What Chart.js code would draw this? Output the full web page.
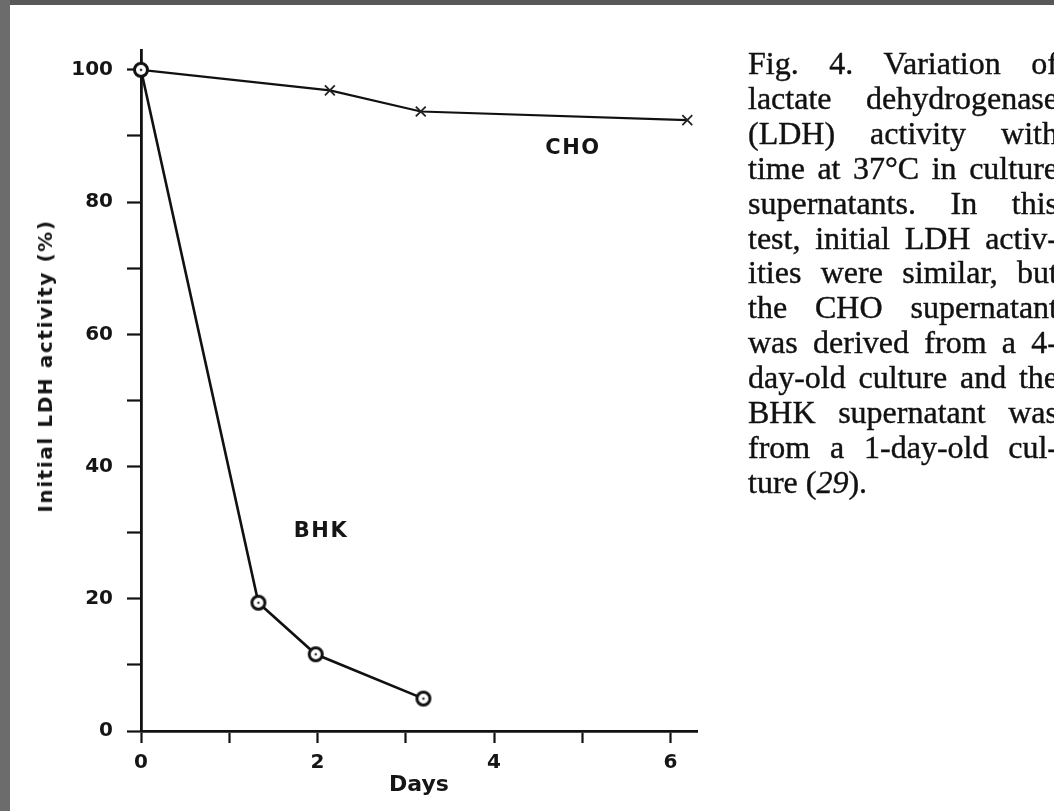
<!DOCTYPE html>
<html><head><meta charset="utf-8">
<script src="https://cdn.jsdelivr.net/npm/chart.js@4"></script>
<style>
html,body{margin:0;padding:0;background:#fff;width:1054px;height:811px;overflow:hidden;position:relative}
#c{position:absolute;left:0;top:0}
.bar-top{position:absolute;left:0;top:0;width:1054px;height:5px;background:#585858}
.bar-left{position:absolute;left:0;top:0;width:10px;height:811px;background:#6c6c6c}
#caption{position:absolute;left:748px;top:46px;width:310px;font-family:"Liberation Serif",serif;font-size:32px;line-height:34.9px;color:#111;-webkit-text-stroke:0.4px #111}
#caption div{text-align:justify;text-align-last:justify;white-space:nowrap}
#caption div.last{text-align:left;text-align-last:left}
.lbl{position:absolute;font-family:"DejaVu Sans",sans-serif;font-weight:bold;font-size:21px;letter-spacing:1.5px;color:#151515;transform:translate(-50%,-50%);white-space:nowrap}
#ytitle{position:absolute;left:45px;top:366px;font-family:"DejaVu Sans",sans-serif;font-weight:bold;font-size:20px;letter-spacing:1.6px;color:#151515;transform:translate(-50%,-50%) rotate(-90deg);white-space:nowrap}
</style>
</head><body>
<canvas id="c" width="1054" height="811"></canvas>
<div class="bar-top"></div><div class="bar-left"></div>
<div id="ytitle">Initial LDH activity (%)</div>
<div class="lbl" style="left:573px;top:147px">CHO</div>
<div class="lbl" style="left:321px;top:530px">BHK</div>
<div id="caption">
<div>Fig. 4. Variation of</div>
<div>lactate dehydrogenase</div>
<div>(LDH) activity with</div>
<div>time at 37°C in culture</div>
<div>supernatants. In this</div>
<div>test, initial LDH activ-</div>
<div>ities were similar, but</div>
<div>the CHO supernatant</div>
<div>was derived from a 4-</div>
<div>day-old culture and the</div>
<div>BHK supernatant was</div>
<div>from a 1-day-old cul-</div>
<div class="last">ture (<i>29</i>).</div>
</div>
<script>
const choDays = [0, 2.14, 3.17, 6.19];
const choValues = [100, 96.9, 93.7, 92.4];
const bhkDays = [0, 1.33, 1.98, 3.2];
const bhkValues = [100, 19.4, 11.6, 4.9];
const xTickValues = [0, 1, 2, 3, 4, 5, 6];
const xLabelValues = [0, 2, 4, 6];
const yTickValues = [0, 10, 20, 30, 40, 50, 60, 70, 80, 90, 100];
const yLabelValues = [0, 20, 40, 60, 80, 100];

function ringMarker(){
  const c = document.createElement('canvas'); c.width = c.height = 22;
  const g = c.getContext('2d');
  g.fillStyle = '#fff'; g.beginPath(); g.arc(11,11,6.5,0,2*Math.PI); g.fill();
  g.lineWidth = 3; g.strokeStyle = '#111'; g.stroke();
  g.fillStyle = '#333'; g.beginPath(); g.arc(11,11,1.3,0,2*Math.PI); g.fill();
  return c;
}
const tickFont = {family:'DejaVu Sans', weight:'bold', size:20};
new Chart(document.getElementById('c'), {
  type: 'scatter',
  data: {
    datasets: [
      {label:'BHK', data: bhkDays.map((d,i)=>({x:d,y:bhkValues[i]})), showLine:true,
       borderColor:'#111', borderWidth:2.6, pointStyle: ringMarker(), pointRadius:8, clip:false},
      {label:'CHO', data: choDays.map((d,i)=>({x:d,y:choValues[i]})), showLine:true,
       borderColor:'#111', borderWidth:2.2, pointStyle:'crossRot', pointRadius:7, pointBorderWidth:1.8,
       pointBorderColor:'#222', clip:false}
    ]
  },
  options: {
    responsive:false, animation:false, devicePixelRatio:1,
    layout:{padding:{left:0, top:50, right:357, bottom:0}},
    plugins:{legend:{display:false}, tooltip:{enabled:false}},
    scales:{
      x:{type:'linear', min:0, max:6.3, position:'bottom',
         afterBuildTicks: s => { s.ticks = xTickValues.map(v=>({value:v})); },
         afterFit: s => { s.height = 80; },
         ticks:{autoSkip:false, maxRotation:0, padding:8, color:'#151515', font:tickFont,
                callback: v => xLabelValues.includes(v) ? String(v) : ''},
         grid:{drawOnChartArea:false, drawTicks:true, tickLength:12, tickWidth:2.2, tickColor:'#111'},
         border:{display:true, color:'#111', width:2.8},
         title:{display:true, text:'Days', color:'#151515', font:{family:'DejaVu Sans', weight:'bold', size:22}, padding:{top:0, bottom:13}}
      },
      y:{type:'linear', min:0, max:103, position:'left',
         afterBuildTicks: s => { s.ticks = yTickValues.map(v=>({value:v})); },
         afterFit: s => { s.width = 141; },
         ticks:{autoSkip:false, padding:14, color:'#151515', font:tickFont,
                callback: v => yLabelValues.includes(v) ? String(v) : ''},
         grid:{drawOnChartArea:false, drawTicks:true, tickLength:14, tickWidth:2.2, tickColor:'#111'},
         border:{display:true, color:'#111', width:2.8}
      }
    }
  }
});
</script>
</body></html>
